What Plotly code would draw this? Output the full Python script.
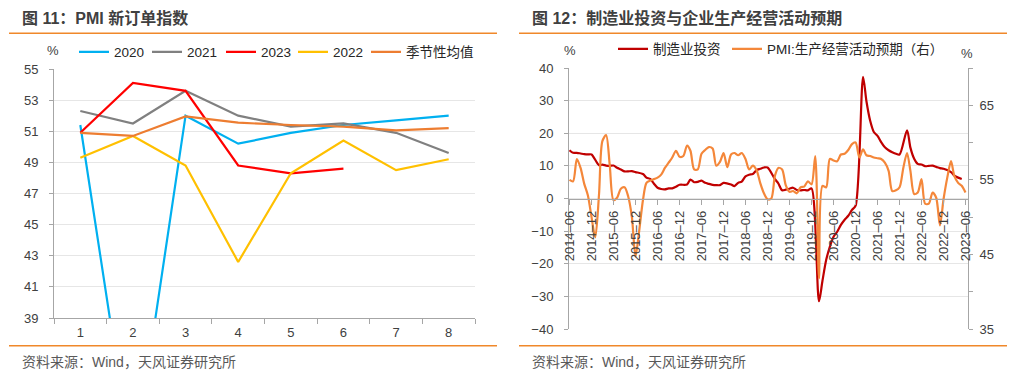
import pandas as pd
import plotly.graph_objects as go

W, H = 1017, 383
OFF = 8  # page body margin of the browser

# ---------------- data: left chart (PMI new orders) ----------------
months_cat = ["1", "2", "3", "4", "5", "6", "7", "8"]
pmi_2020 = [51.4, 29.3, 52.0, 50.2, 50.9, 51.4, 51.7, 52.0]
pmi_2021 = [52.3, 51.5, 53.6, 52.0, 51.3, 51.5, 50.9, 49.6]
pmi_2023 = [50.9, 54.1, 53.6, 48.8, 48.3, 48.6]
pmi_2022 = [49.3, 50.7, 48.8, 42.6, 48.3, 50.4, 48.5, 49.2]
pmi_seasonal = [50.9, 50.7, 51.95, 51.55, 51.4, 51.3, 51.05, 51.2]

# ---------------- data: right chart ----------------
# manufacturing investment (cumulative yoy, %), no January releases
inv_2014 = [14.8, 14.0, 14.0, 13.8, 13.6, 13.5, 13.5]                       # Jun-Dec
inv_2015 = [10.2, 10.4, 10.1, 10.0, 10.1, 9.4, 8.9, 8.3, 8.3, 8.4, 8.1]      # Feb-Dec
inv_2016 = [7.5, 6.4, 6.0, 4.6, 3.3, 2.9, 2.8, 3.1, 3.1, 3.6, 4.2]
inv_2017 = [4.3, 5.8, 5.0, 5.1, 5.5, 4.8, 4.5, 4.2, 4.1, 4.1, 4.8]
inv_2018 = [4.3, 3.8, 4.8, 5.2, 6.8, 7.3, 7.5, 8.7, 9.1, 9.5, 9.5]
inv_2019 = [5.9, 4.6, 2.5, 2.7, 3.0, 3.3, 2.6, 2.5, 2.6, 2.5, 3.1]
inv_2020 = [-31.5, -25.2, -18.8, -14.8, -11.7, -10.2, -8.1, -6.5, -5.3, -3.5, -2.2]
inv_2021 = [37.3, 29.8, 23.8, 20.4, 19.2, 17.3, 15.7, 14.8, 14.2, 13.7, 13.5]
inv_2022 = [20.9, 15.6, 12.2, 10.6, 10.4, 9.9, 10.0, 10.1, 9.7, 9.3, 9.1]
inv_2023 = [8.1, 7.0, 6.4, 6.0]                                              # Feb-May

# PMI production & business activity expectation (%), monthly
exp_2014 = [55.0, 54.8, 57.8, 56.6, 54.5, 52.9, 50.0]                        # Jun-Dec
exp_2015 = [47.3, 53.0, 60.2, 61.0, 57.0, 52.3, 52.6, 53.8, 54.0, 52.8, 50.0, 44.7]
exp_2016 = [48.2, 52.3, 54.6, 54.9, 55.1, 55.3, 55.7, 56.6, 57.3, 58.0, 58.9, 58.1]
exp_2017 = [58.2, 59.6, 58.9, 56.4, 56.4, 58.5, 59.0, 59.4, 59.2, 56.9, 57.4, 58.6]
exp_2018 = [56.7, 58.4, 58.6, 58.3, 58.6, 57.8, 56.4, 56.9, 56.3, 54.6, 53.2, 52.4]
exp_2019 = [52.5, 55.6, 56.6, 56.4, 54.3, 53.4, 53.5, 53.2, 54.0, 54.1, 54.8, 54.4]
exp_2020 = [58.2, 41.8, 54.2, 54.0, 57.8, 57.6, 57.5, 58.4, 58.5, 59.0, 59.8, 60.0]
exp_2021 = [58.0, 59.1, 58.3, 58.2, 58.0, 57.9, 57.8, 57.3, 56.2, 53.5, 53.6, 54.0]
exp_2022 = [56.6, 58.6, 56.2, 53.1, 53.3, 55.1, 51.8, 51.8, 53.3, 52.6, 48.9, 52.4]
exp_2023 = [55.3, 57.5, 55.5, 54.6, 54.2, 53.3]                              # Jan-Jun

inv_values = (inv_2014 + inv_2015 + inv_2016 + inv_2017 + inv_2018 + inv_2019
              + inv_2020 + inv_2021 + inv_2022 + inv_2023)
exp_values = (exp_2014 + exp_2015 + exp_2016 + exp_2017 + exp_2018 + exp_2019
              + exp_2020 + exp_2021 + exp_2022 + exp_2023)

inv_dates = [d for d in pd.date_range("2014-06-01", "2023-05-01", freq="MS") if d.month != 1]
exp_dates = list(pd.date_range("2014-06-01", "2023-06-01", freq="MS"))

# ---------------- helpers (window pixel -> paper fraction) ----------------
def px_x(p):
    return (p - OFF) / W

def px_y(p):
    return 1 - (p - OFF) / H

FONT = "Liberation Sans, Arial, Noto Sans CJK SC, sans-serif"
AX = "#A6A6A6"
GRID = "#E6E6E6"
TXT = "#404040"

C2020 = "#00B0F0"
C2021 = "#808080"
C2023 = "#FF0000"
C2022 = "#FFC000"
CSEA = "#ED7D31"
CINV = "#C00000"
CEXP = "#F4873A"

fig = go.Figure()

left_series = [
    ("2020", pmi_2020, C2020, "legend"),
    ("2021", pmi_2021, C2021, "legend2"),
    ("2023", pmi_2023, C2023, "legend3"),
    ("2022", pmi_2022, C2022, "legend4"),
    ("季节性均值", pmi_seasonal, CSEA, "legend5"),
]
for name, vals, col, lg in left_series:
    fig.add_trace(go.Scatter(
        x=months_cat[:len(vals)], y=vals, name=name, mode="lines",
        line=dict(color=col, width=2.2), xaxis="x", yaxis="y", legend=lg))

fig.add_trace(go.Scatter(
    x=inv_dates, y=inv_values, name="制造业投资", mode="lines",
    line=dict(color=CINV, width=2.2, shape="spline", smoothing=0.8),
    xaxis="x2", yaxis="y2", legend="legend6"))
fig.add_trace(go.Scatter(
    x=exp_dates, y=exp_values, name="PMI:生产经营活动预期（右）", mode="lines",
    line=dict(color=CEXP, width=2.2, shape="spline", smoothing=0.8),
    xaxis="x2", yaxis="y3", legend="legend7"))

# legends placed individually
leg_common = dict(orientation="h", xanchor="left", yanchor="middle",
                  bgcolor="rgba(0,0,0,0)", font=dict(family=FONT, size=13.5, color="#262626"),
                  itemwidth=30)
leg_pos = {
    "legend": (79, 52), "legend2": (152, 52), "legend3": (226, 52),
    "legend4": (298, 52), "legend5": (371, 52),
    "legend6": (618, 49), "legend7": (732, 49),
}
layout_legends = {}
for k, (lx, ly) in leg_pos.items():
    layout_legends[k] = dict(leg_common, x=px_x(lx - 5), y=px_y(ly))

tickfont = dict(family=FONT, size=13, color=TXT)

fig.update_layout(
    width=W, height=H,
    margin=dict(l=0, r=0, t=0, b=0, autoexpand=False),
    paper_bgcolor="white", plot_bgcolor="white",
    showlegend=True,
    font=dict(family=FONT, color=TXT),
    xaxis=dict(domain=[px_x(54), px_x(475)], anchor="y", type="category",
               range=[-0.5, 7.5], automargin=False,
               tickson="boundaries", ticks="outside", ticklen=5, tickcolor=AX,
               showline=True, linecolor=AX, linewidth=1, showgrid=False,
               tickfont=tickfont, ticklabelstandoff=2),
    yaxis=dict(domain=[px_y(318), px_y(69)], anchor="x", range=[39, 55], automargin=False,
               tick0=39, dtick=2, showgrid=True, gridcolor=GRID, gridwidth=1,
               showline=True, linecolor=AX, ticks="outside", ticklen=4, tickcolor=AX,
               zeroline=False, tickfont=tickfont, ticklabelstandoff=8),
    xaxis2=dict(domain=[px_x(569), px_x(968)], anchor="free", position=px_y(198.5),
                type="date", range=["2014-05-28", "2023-06-22"], automargin=False,
                tick0="2014-06-01", dtick="M6", tickformat="%Y–%m", tickangle=-90,
                ticks="outside", ticklen=5, tickcolor=AX, showline=True, linecolor=AX,
                showgrid=False, zeroline=False, tickfont=tickfont, ticklabelstandoff=1),
    yaxis2=dict(domain=[px_y(329), px_y(68)], anchor="x2", range=[-40, 40], dtick=10,
                automargin=False,
                showgrid=True, gridcolor=GRID, showline=True, linecolor=AX,
                ticks="outside", ticklen=4, tickcolor=AX, zeroline=False,
                tickfont=tickfont, ticklabelstandoff=8),
    yaxis3=dict(overlaying="y2", anchor="x2", side="right", range=[35, 70],
                automargin=False,
                tickmode="array", tickvals=[35, 40, 45, 50, 55, 60, 65, 70],
                ticktext=["35", "", "45", "", "55", "", "65", ""],
                showgrid=False, showline=True, linecolor=AX, ticks="outside",
                ticklen=4, tickcolor=AX, zeroline=False, tickfont=tickfont,
                ticklabelstandoff=4),
    **layout_legends,
)

ORANGE_RULE = "#F0882A"
shapes = []
for (x0, x1) in [(9, 497), (519, 1007)]:
    for yy in (33.3, 345.7):
        shapes.append(dict(type="line", xref="paper", yref="paper",
                           x0=px_x(x0), x1=px_x(x1), y0=px_y(yy), y1=px_y(yy),
                           line=dict(color=ORANGE_RULE, width=1.5)))
fig.update_layout(shapes=shapes)

def ann(text, x, y, size, color, xanchor="left", bold=False):
    t = f"<b>{text}</b>" if bold else text
    return dict(text=t, x=px_x(x), y=px_y(y), xref="paper", yref="paper",
                xanchor=xanchor, yanchor="middle", showarrow=False,
                font=dict(family=FONT, size=size, color=color))

annotations = [
    ann("图 11：PMI 新订单指数", 20, 18, 16, "#404040", bold=True),
    ann("图 12：制造业投资与企业生产经营活动预期", 530, 18, 16, "#404040", bold=True),
    ann("资料来源：Wind，天风证券研究所", 20, 362, 14, "#595959"),
    ann("资料来源：Wind，天风证券研究所", 530, 362, 14, "#595959"),
    ann("%", 53, 50, 13, TXT, xanchor="center"),
    ann("%", 570, 50, 13, TXT, xanchor="center"),
    ann("%", 967, 53, 13, TXT, xanchor="center"),
]
fig.update_layout(annotations=annotations)

fig.write_html("out.html")
